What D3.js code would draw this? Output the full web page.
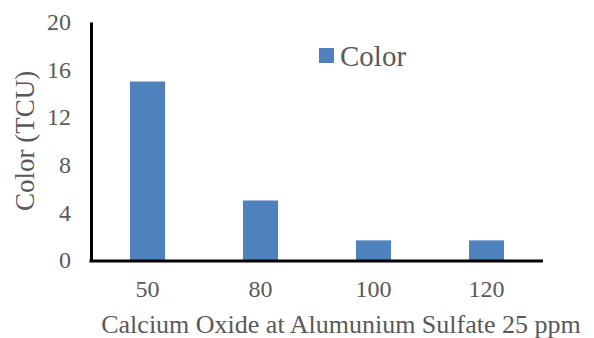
<!DOCTYPE html>
<html><head><meta charset="utf-8">
<script src="https://cdn.jsdelivr.net/npm/d3@7"></script>
<style>body{margin:0;background:#fff}svg{display:block}text{font-family:"Liberation Serif","Times New Roman","DejaVu Serif",serif}</style>
</head><body><svg id="c" width="594" height="338"></svg>
<script>
const categories = ["50", "80", "100", "120"];
const values = [15, 5, 1.65, 1.65];
const yTicks = [0, 4, 8, 12, 16, 20];
const seriesName = "Color";
const yTitle = "Color (TCU)";
const xTitle = "Calcium Oxide at Alumunium Sulfate 25 ppm";

const svg = d3.select("#c");
const grey = "#595959";
const blue = "#4F81BD";
const L = 91, R = 543, T = 22, B = 260;

const x = d3.scaleBand().domain(categories).range([L, R]).paddingInner(0.69).paddingOuter(0.345);
const y = d3.scaleLinear().domain([0, 20]).range([B, T]);

svg.selectAll("rect.bar").data(values).join("rect").attr("class","bar")
  .attr("x", (d,i) => x(categories[i])).attr("width", x.bandwidth())
  .attr("y", d => y(d)).attr("height", d => y(0) - y(d)).attr("fill", blue);

const yAxis = svg.append("g").attr("transform", `translate(${L},0)`)
  .call(d3.axisLeft(y).tickValues(yTicks).tickSize(0).tickPadding(20));
yAxis.attr("font-family", null);
yAxis.select(".domain").attr("stroke", "#000").attr("stroke-width", 3);
yAxis.selectAll("text").style("font-size", "24px").attr("fill", grey);

const xAxis = svg.append("g").attr("transform", `translate(0,${B + 1})`)
  .call(d3.axisBottom(x).tickSize(0).tickPadding(19));
xAxis.attr("font-family", null);
xAxis.select(".domain").attr("stroke", "#000").attr("stroke-width", 3).attr("d", `M${L - 1.5},0H${R}`);
xAxis.selectAll("text").style("font-size", "24px").attr("fill", grey);

svg.append("text").attr("transform", "translate(34,141) rotate(-90)")
  .attr("text-anchor", "middle").style("font-size", "27px").attr("fill", grey).text(yTitle);

svg.append("text").attr("x", 341).attr("y", 333)
  .attr("text-anchor", "middle").style("font-size", "26px").attr("fill", grey).text(xTitle);

const lg = svg.append("g");
lg.append("rect").attr("x", 319).attr("y", 48).attr("width", 15).attr("height", 15).attr("fill", blue);
lg.append("text").attr("x", 340).attr("y", 66).style("font-size", "29px").attr("fill", grey).text(seriesName);
</script></body></html>
